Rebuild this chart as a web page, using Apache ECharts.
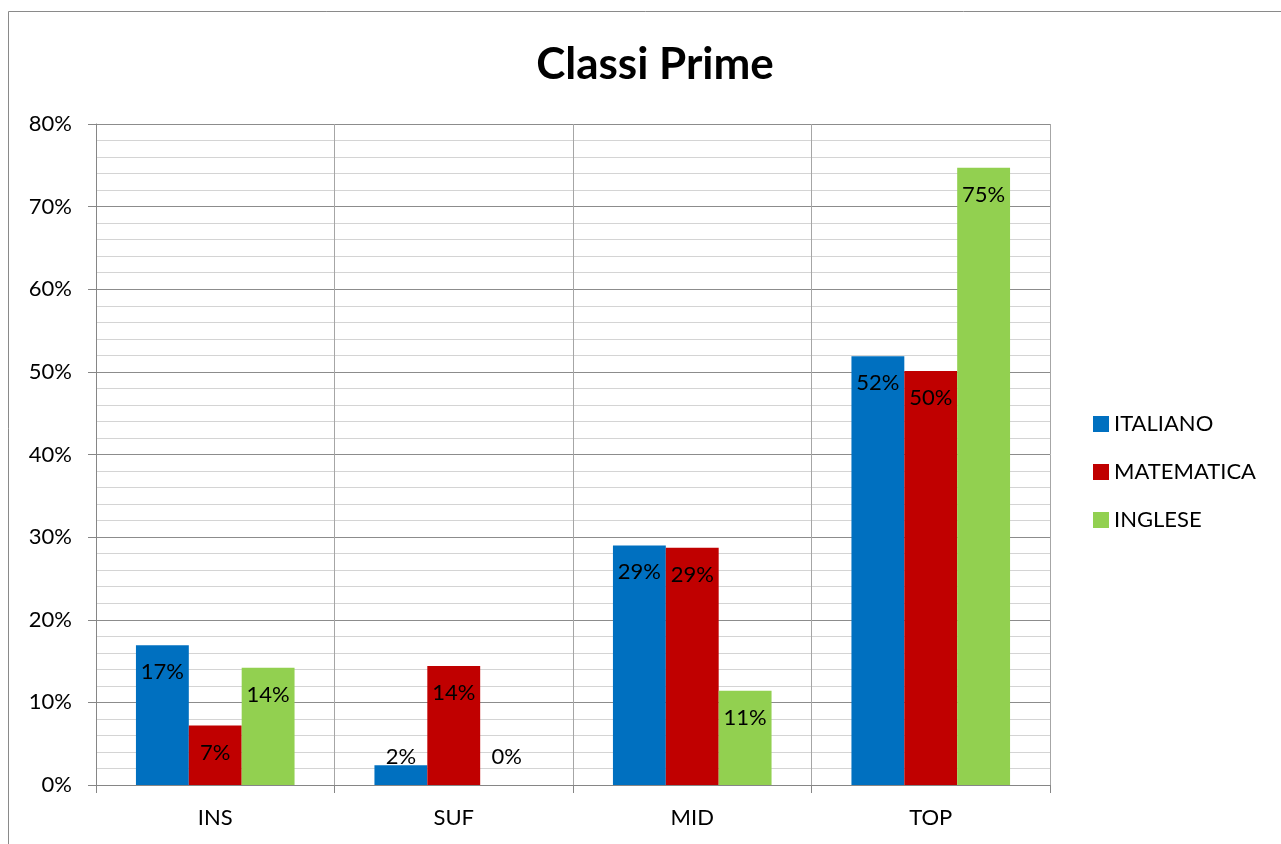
<!DOCTYPE html>
<html><head><meta charset="utf-8">
<script src="https://cdn.jsdelivr.net/npm/echarts@6/dist/echarts.min.js"></script>
<style>html,body{margin:0;padding:0;background:#fff}#c{width:1281px;height:844px}</style>
</head><body><div id="c"></div>
<script>
const categories = ['INS', 'SUF', 'MID', 'TOP'];
const italiano = [16.9, 2.4, 29.0, 51.9];
const matematica = [7.2, 14.4, 28.7, 50.1];
const inglese = [14.2, 0, 11.4, 74.7];
const yTicks = [0, 10, 20, 30, 40, 50, 60, 70, 80];

const FONT = 'Lato, "Open Sans", sans-serif';
function lbl(v) {
  return v < 4 ? { show: true, position: 'insideBottom', distance: 17 } : {};
}
function mk(name, arr, color) {
  return {
    name, type: 'bar', barGap: '0%', barCategoryGap: '33.5%',
    itemStyle: { color },
    label: { show: true, position: 'insideTop', distance: 16, color: '#000', fontSize: 22, fontFamily: FONT,
      formatter: p => Math.round(p.value) + '%' },
    data: arr.map(v => ({ value: v, label: lbl(v) }))
  };
}
const chart = echarts.init(document.getElementById('c'));
chart.setOption({
  animation: false,
  title: { text: 'Classi Prime', left: 650, textAlign: 'center', top: 38,
    textStyle: { fontSize: 44, fontWeight: 'bold', fontFamily: FONT, color: '#000' } },
  graphic: [{ type: 'rect', shape: { x: 8.5, y: 11.5, width: 1400, height: 900 },
    style: { fill: 'none', stroke: '#8a8a8a', lineWidth: 1 }, silent: true, z: -10 }],
  legend: { orient: 'vertical', left: 1088, top: 408, itemWidth: 16, itemHeight: 16, itemGap: 26,
    icon: 'rect', textStyle: { fontSize: 22, fontFamily: FONT, color: '#000' },
    data: ['ITALIANO', 'MATEMATICA', 'INGLESE'] },
  grid: { left: 96, right: 231, top: 124, bottom: 59, containLabel: false },
  xAxis: { type: 'category', data: categories,
    axisLine: { lineStyle: { color: '#868686' } },
    axisTick: { show: true, length: 8, lineStyle: { color: '#868686' } },
    axisLabel: { fontSize: 22, fontFamily: FONT, color: '#000', margin: 22 },
    splitLine: { show: true, lineStyle: { color: '#a6a6a6' } } },
  yAxis: { type: 'value', min: 0, max: 80, interval: 10,
    axisLine: { show: true, lineStyle: { color: '#868686' } },
    axisTick: { show: true, length: 8, lineStyle: { color: '#868686' } },
    axisLabel: { fontSize: 22, fontFamily: FONT, color: '#000', margin: 24,
      formatter: v => yTicks.includes(v) ? v + '%' : '' },
    splitLine: { show: true, lineStyle: { color: '#8c8c8c' } },
    minorTick: { show: false, splitNumber: 5 },
    minorSplitLine: { show: true, lineStyle: { color: '#d4d4d4' } } },
  series: [mk('ITALIANO', italiano, '#0070C0'), mk('MATEMATICA', matematica, '#C00000'), mk('INGLESE', inglese, '#92D050')]
});
</script></body></html>
